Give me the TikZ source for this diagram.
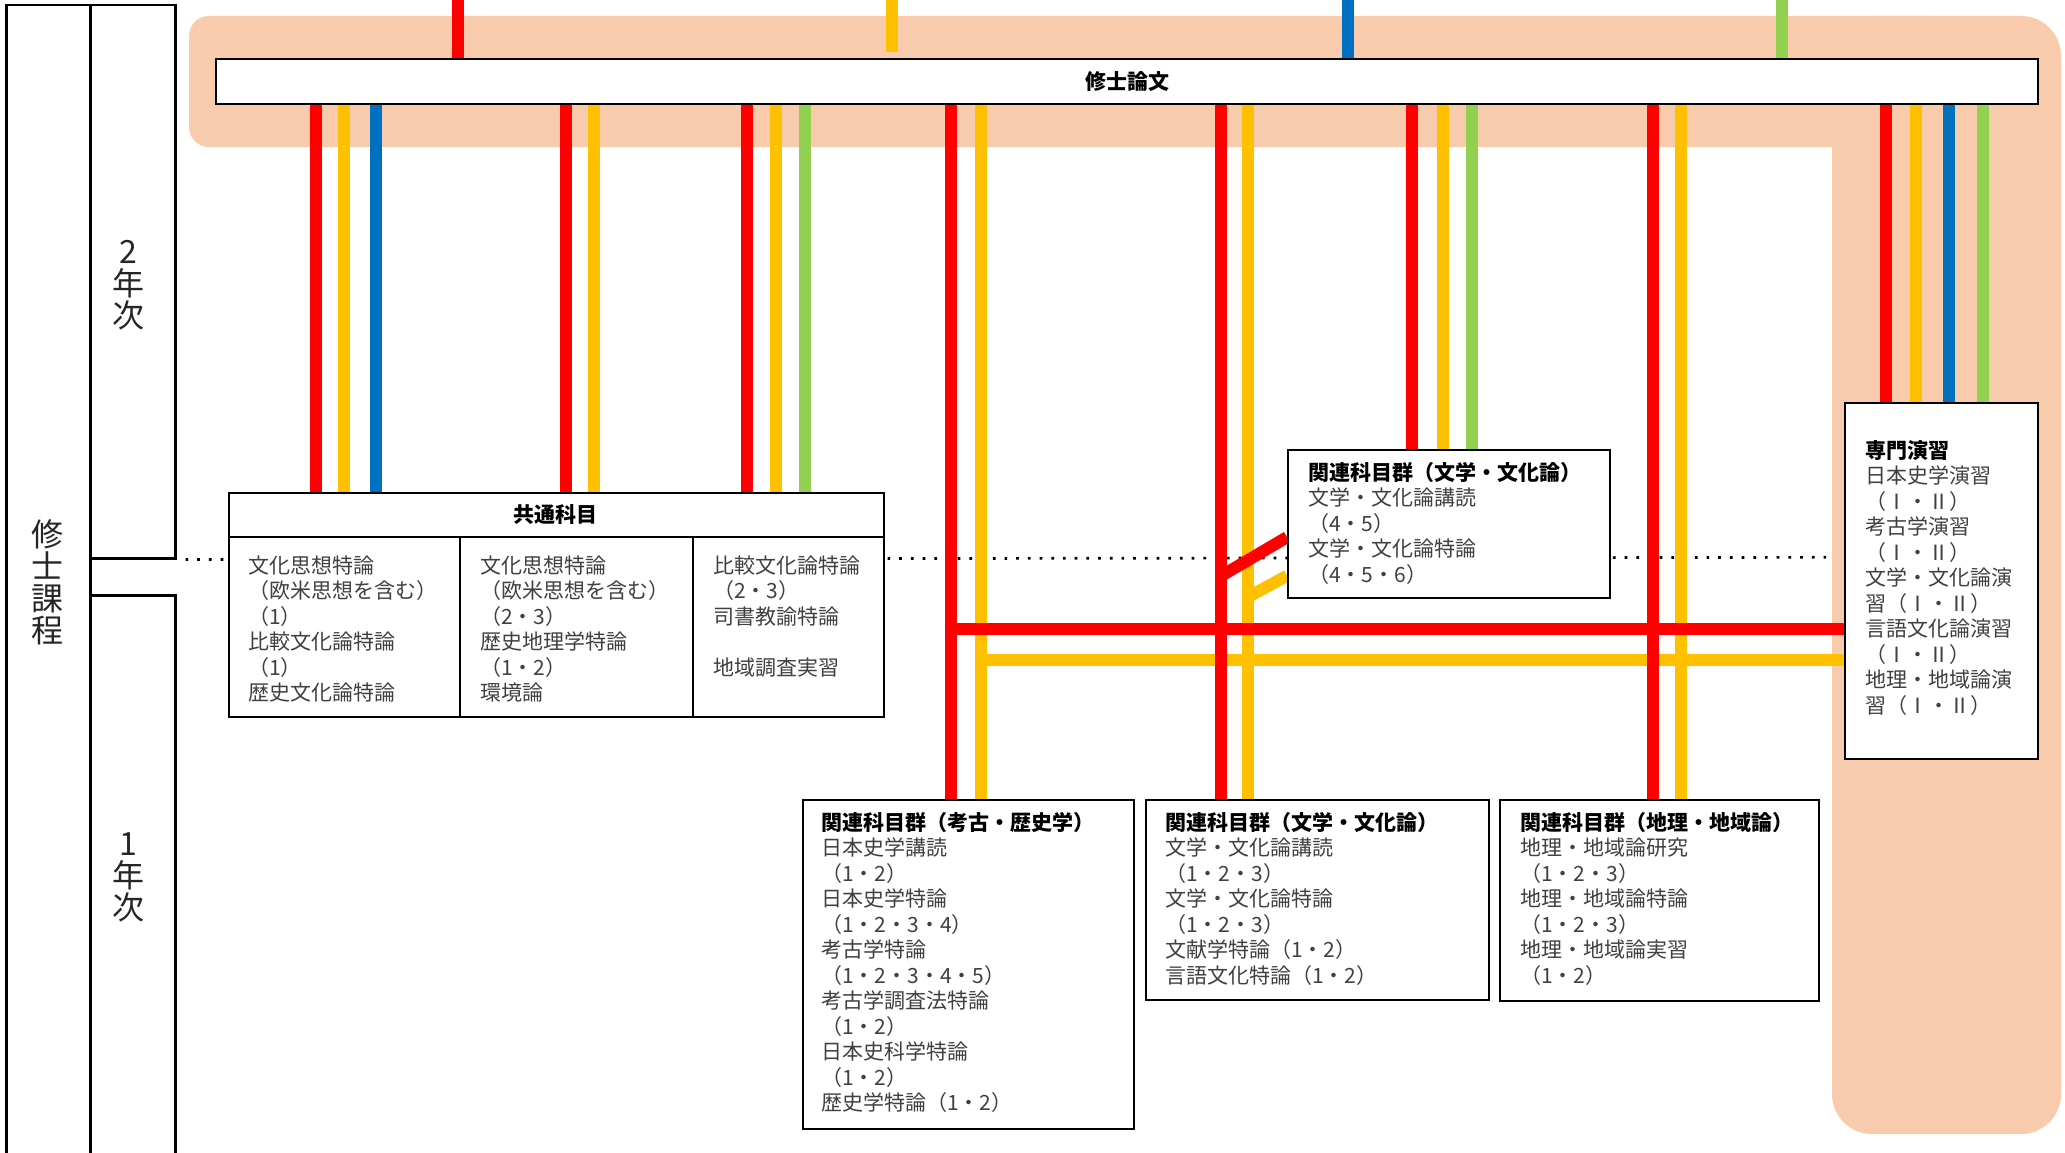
\documentclass[tikz,border=0pt]{standalone}
\usepackage{fontspec}
\usetikzlibrary{calc}
\setmainfont{Noto Sans CJK JP}
\definecolor{peach}{HTML}{F8CBAD}
\definecolor{cred}{HTML}{FF0000}
\definecolor{cyel}{HTML}{FFC000}
\definecolor{cblu}{HTML}{0070C0}
\definecolor{cgrn}{HTML}{92D050}
\definecolor{bodygray}{HTML}{404040}
\newcommand\fst{\rule{0pt}{20pt}}
\newcommand\hdg[1]{{\fst\bfseries\color{black}#1}}
\pgfdeclarelayer{bg}
\pgfdeclarelayer{paper}
\pgfsetlayers{paper,bg,main}
\begin{document}
\begin{tikzpicture}[x=1pt,y=-1pt,
  box/.style={draw=black, line width=2pt, fill=white, inner sep=0pt, anchor=north west},
  yrbox/.style={draw=black, line width=2.5pt, fill=white, inner sep=0pt, anchor=north west},
  yrtext/.style={align=center, inner sep=0pt, font=\fontsize{32pt}{32pt}\selectfont, text=black!85},
  txt/.style={inner sep=0pt, anchor=north west, align=left, font=\fontsize{21pt}{25.5pt}\selectfont, text=bodygray},
  headtxt/.style={inner sep=0pt, font=\fontsize{21pt}{21pt}\selectfont\bfseries},
  redln/.style={draw=cred, line width=12pt},
  yelln/.style={draw=cyel, line width=12pt},
  bluln/.style={draw=cblu, line width=12pt},
  grnln/.style={draw=cgrn, line width=12pt},
  dotln/.style={draw=black, line width=2.7pt, dash pattern=on 2.7pt off 9pt, dash phase=2.7pt}
]
\useasboundingbox (0,0) rectangle (2065,1153);
\begin{pgfonlayer}{paper}
\fill[white] (0,0) rectangle (2065,1153);
\end{pgfonlayer}
\clip (0,0) rectangle (2065,1153);

% left year column boxes
\node[yrbox, minimum width=84pt, minimum height=1250pt] (course) at (5,4) {};
\node[yrbox, minimum width=85pt, minimum height=553pt] (yr2) at (89,4) {};
\node[yrbox, minimum width=85pt, minimum height=700pt] (yr1) at (89,594) {};
\node[yrtext] (courseT) at (47,582) {修\\士\\課\\程};
\node[yrtext] (yr2T) at (128,285) {2\\年\\次};
\node[yrtext] (yr1T) at (128,877) {1\\年\\次};

% thesis box
\node[box, minimum width=1822pt, minimum height=45pt] (thesis) at (215,58) {};
\node[headtxt] (thesisT) at (thesis.center) {修士論文};

% common subjects box
\node[box, minimum width=655pt, minimum height=224pt] (kyotsu) at (228,492) {};
\coordinate (hl1) at (228,537);
\coordinate (hl2) at (883,537);
\draw[line width=2pt] (hl1) -- (hl2);
\coordinate (c1) at (460,537);
\coordinate (c2) at (693,537);
\draw[line width=2pt] (c1) -- (c1 |- kyotsu.south);
\draw[line width=2pt] (c2) -- (c2 |- kyotsu.south);
\node[headtxt] (kyotsuH) at (555,515) {共通科目};
\node[txt] (k1) at (248,553) {\fst 文化思想特論\\（欧米思想を含む）\\（1）\\比較文化論特論\\（1）\\歴史文化論特論};
\node[txt] (k2) at (480,553) {\fst 文化思想特論\\（欧米思想を含む）\\（2・3）\\歴史地理学特論\\（1・2）\\環境論};
\node[txt] (k3) at (713,553) {\fst 比較文化論特論\\（2・3）\\司書教諭特論\\\mbox{}\\地域調査実習};

% related subject boxes
\node[box, minimum width=331pt, minimum height=329pt] (kouko) at (802,799) {};
\node[txt] (koukoT) at (821,810) {\hdg{関連科目群（考古・歴史学）}\\日本史学講読\\（1・2）\\日本史学特論\\（1・2・3・4）\\考古学特論\\（1・2・3・4・5）\\考古学調査法特論\\（1・2）\\日本史科学特論\\（1・2）\\歴史学特論（1・2）};

\node[box, minimum width=343pt, minimum height=200pt] (bun1) at (1145,799) {};
\node[txt] (bun1T) at (1165,810) {\hdg{関連科目群（文学・文化論）}\\文学・文化論講読\\（1・2・3）\\文学・文化論特論\\（1・2・3）\\文献学特論（1・2）\\言語文化特論（1・2）};

\node[box, minimum width=319pt, minimum height=201pt] (chiri) at (1499,799) {};
\node[txt] (chiriT) at (1520,810) {\hdg{関連科目群（地理・地域論）}\\地理・地域論研究\\（1・2・3）\\地理・地域論特論\\（1・2・3）\\地理・地域論実習\\（1・2）};

\node[box, minimum width=322pt, minimum height=148pt] (bun2) at (1287,449) {};
\node[txt] (bun2T) at (1308,460) {\hdg{関連科目群（文学・文化論）}\\文学・文化論講読\\（4・5）\\文学・文化論特論\\（4・5・6）};

\node[box, minimum width=193pt, minimum height=356pt] (senmon) at (1844,402) {};
\node[txt] (senmonT) at (1865,438) {\hdg{専門演習}\\日本史学演習\\（Ⅰ・Ⅱ）\\考古学演習\\（Ⅰ・Ⅱ）\\文学・文化論演\\習（Ⅰ・Ⅱ）\\言語文化論演習\\（Ⅰ・Ⅱ）\\地理・地域論演\\習（Ⅰ・Ⅱ）};

% connector end coordinates
\coordinate (dotend) at (2065,557);
\coordinate (topR) at (458,0);
\coordinate (topY) at (892,0);
\coordinate (topYend) at (892,52);
\coordinate (topB) at (1348,0);
\coordinate (topG) at (1782,0);
\coordinate (hR) at (951,629);
\coordinate (hY) at (981,660);
\coordinate (dR) at (1221,576);
\coordinate (dY) at (1248,597);

\begin{pgfonlayer}{bg}
% dotted year divider
\draw[dotln] (yr2.south east) -- (dotend);
% peach background band
\fill[peach, rounded corners=20pt] (189,16) rectangle (1950,147);
\fill[peach, rounded corners=40pt] (1832,16) rectangle (2061,1134);
% yellow lines
\draw[yelln] (topY) -- (topYend);
\foreach \x/\b in {344/kyotsu, 594/kyotsu, 776/kyotsu, 981/kouko, 1248/bun1, 1443/bun2, 1681/chiri, 1916/senmon}
  \draw[yelln] (\x,0 |- thesis.south) -- (\x,0 |- \b.north);
\draw[yelln] (hY) -- (hY -| senmon.west);
\draw[yelln] (dY) -- ($(bun2.north west)!0.845!(bun2.south west)$);
% blue and green lines
\draw[bluln] (topB) -- (topB |- thesis.north);
\draw[grnln] (topG) -- (topG |- thesis.north);
\foreach \x/\b in {376/kyotsu, 1949/senmon}
  \draw[bluln] (\x,0 |- thesis.south) -- (\x,0 |- \b.north);
\foreach \x/\b in {805/kyotsu, 1472/bun2, 1983/senmon}
  \draw[grnln] (\x,0 |- thesis.south) -- (\x,0 |- \b.north);
% red lines
\draw[redln] (topR) -- (topR |- thesis.north);
\foreach \x/\b in {316/kyotsu, 566/kyotsu, 747/kyotsu, 951/kouko, 1221/bun1, 1412/bun2, 1653/chiri, 1886/senmon}
  \draw[redln] (\x,0 |- thesis.south) -- (\x,0 |- \b.north);
\draw[redln] (hR) -- (hR -| senmon.west);
\draw[redln] (dR) -- ($(bun2.north west)!0.588!(bun2.south west)$);
\end{pgfonlayer}
\end{tikzpicture}
\end{document}
